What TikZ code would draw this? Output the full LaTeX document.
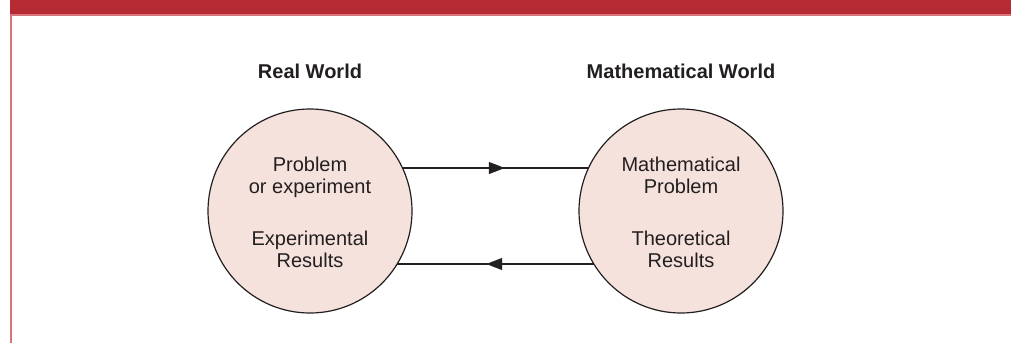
\documentclass[tikz,border=0pt]{standalone}
\usepackage{fontspec}
\setmainfont{Liberation Sans}
\usetikzlibrary{arrows.meta,decorations.markings,backgrounds}

\definecolor{barred}{HTML}{B52A33}
\definecolor{edgered}{HTML}{D9747C}
\definecolor{worldfill}{HTML}{F5E2DC}
\definecolor{inkgray}{HTML}{231F20}

\tikzset{
  world/.style={circle, draw=inkgray, fill=worldfill, line width=1.2pt, minimum size=204pt, inner sep=0pt},
  worldtitle/.style={font=\fontsize{20}{21.5}\selectfont\bfseries, text=inkgray, anchor=base},
  worldtext/.style={align=center, text=inkgray, anchor=base},
  flow/.style={line width=1.2pt, draw=inkgray, postaction={decorate},
    decoration={markings, mark=at position 0.525 with {\arrow{Triangle[length=16pt,width=12pt]}}}}
}

\begin{document}
\begin{tikzpicture}[x=1pt, y=-1pt, font=\fontsize{20}{21.5}\selectfont]

\useasboundingbox (0,0) rectangle (1011,343);

% frame
\fill[barred] (10,0) rectangle (1011,14);
\fill[edgered] (10,14) rectangle (1011,15.5);
\fill[edgered] (10,14) rectangle (12,343);

\node[world] (wl) at (310,211) {};
\node[world] (wm) at (681,211) {};

\node[worldtitle] (tl) at (310,78) {Real World};
\node[worldtitle] (tm) at (681,78) {Mathematical World};

\node[worldtext] (pl) at (310,193) {Problem\\or experiment};
\node[worldtext] (rl) at (310,267) {Experimental\\Results};
\node[worldtext] (pm) at (681,193) {Mathematical\\Problem};
\node[worldtext] (rm) at (681,267) {Theoretical\\Results};

\begin{scope}[on background layer]
\draw[flow] ([yshift=43pt]wl.center) -- ([yshift=43pt]wm.center); %wl-wm
\draw[flow] ([yshift=-53pt]wm.center) -- ([yshift=-53pt]wl.center); %wm-wl
\end{scope}

\end{tikzpicture}
\end{document}
